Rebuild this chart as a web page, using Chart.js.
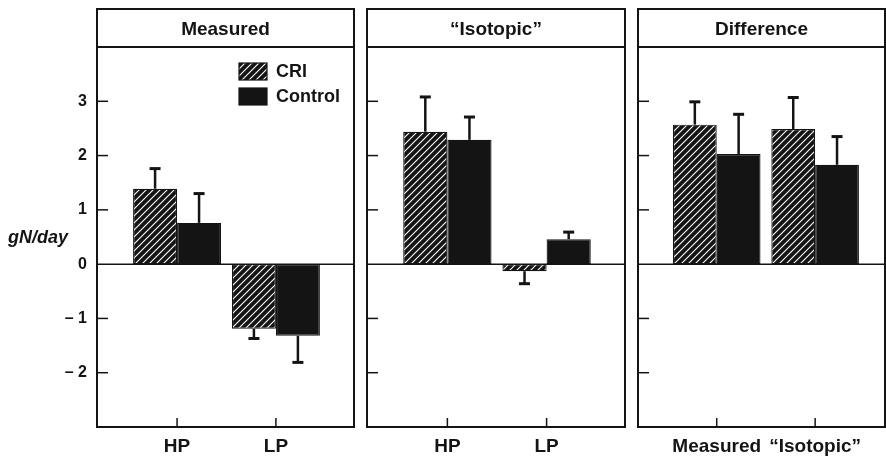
<!DOCTYPE html>
<html><head><meta charset="utf-8">
<script src="https://cdn.jsdelivr.net/npm/chart.js@4/dist/chart.umd.min.js"></script>
<style>
html,body{margin:0;padding:0;background:#fff;width:886px;height:458px;overflow:hidden}
canvas{position:absolute;top:0;display:block}
</style></head><body>
<canvas id="cA" width="360" height="458" style="left:0px"></canvas>
<canvas id="cB" width="270" height="458" style="left:360px"></canvas>
<canvas id="cC" width="256" height="458" style="left:630px"></canvas>
<script>
// ---- data ----
const seriesNames = ['CRI', 'Control'];
const panelTitles = ['Measured', '\u201CIsotopic\u201D', 'Difference'];
const dietLabels = ['HP', 'LP'];
const diffLabels = ['Measured', '\u201CIsotopic\u201D'];
const yTicks = [-2, -1, 0, 1, 2, 3];
const yTitle = 'gN/day';

const measuredCRI = [1.39, -1.19];
const measuredCRIErr = [0.37, 0.18];
const measuredControl = [0.76, -1.32];
const measuredControlErr = [0.54, 0.49];

const isotopicCRI = [2.44, -0.13];
const isotopicCRIErr = [0.64, 0.23];
const isotopicControl = [2.29, 0.46];
const isotopicControlErr = [0.42, 0.13];

const differenceCRI = [2.57, 2.49];
const differenceCRIErr = [0.42, 0.58];
const differenceControl = [2.03, 1.83];
const differenceControlErr = [0.73, 0.52];

// ---- styling helpers ----
const FONT = "'Liberation Sans', Arial, Helvetica, sans-serif";
const INK = '#141414';
Chart.defaults.font.family = FONT;
Chart.defaults.color = INK;

function makeHatch() {
  const s = 7;
  const c = document.createElement('canvas');
  c.width = s; c.height = s;
  const g = c.getContext('2d');
  g.fillStyle = INK; g.fillRect(0, 0, s, s);
  g.strokeStyle = '#ffffff'; g.lineWidth = 1.1;
  g.beginPath();
  g.moveTo(-1, 1); g.lineTo(1, -1);
  g.moveTo(0, s); g.lineTo(s, 0);
  g.moveTo(s - 1, s + 1); g.lineTo(s + 1, s - 1);
  g.stroke();
  return g.createPattern(c, 'repeat');
}

const HEADER_TOP = 9;

const framePlugin = {
  id: 'frame',
  afterDatasetsDraw(chart) {
    const ctx = chart.ctx, ca = chart.chartArea;
    const ys = chart.scales.y, xs = chart.scales.x;
    ctx.save();
    ctx.strokeStyle = INK;
    ctx.lineWidth = 1.5;
    const z = ys.getPixelForValue(0);
    ctx.beginPath(); ctx.moveTo(ca.left, z); ctx.lineTo(ca.right, z); ctx.stroke();
    yTicks.forEach(v => {
      if (v === 0) return;
      const p = ys.getPixelForValue(v);
      ctx.beginPath(); ctx.moveTo(ca.left, p); ctx.lineTo(ca.left + 11, p); ctx.stroke();
    });
    xs.ticks.forEach(t => {
      const p = xs.getPixelForValue(t.value);
      ctx.beginPath(); ctx.moveTo(p, ca.bottom); ctx.lineTo(p, ca.bottom - 9); ctx.stroke();
    });
    ctx.lineWidth = 2;
    ctx.strokeRect(ca.left, HEADER_TOP, ca.right - ca.left, ca.bottom - HEADER_TOP);
    ctx.beginPath(); ctx.moveTo(ca.left, ca.top); ctx.lineTo(ca.right, ca.top); ctx.stroke();
    ctx.restore();
  }
};

const errorBarPlugin = {
  id: 'errorBars',
  afterDatasetsDraw(chart) {
    const ctx = chart.ctx, ys = chart.scales.y;
    chart.data.datasets.forEach((ds, di) => {
      const meta = chart.getDatasetMeta(di);
      meta.data.forEach((el, i) => {
        const v = ds.data[i].y, e = ds.errors[i];
        const end = v >= 0 ? v + e : v - e;
        const p1 = ys.getPixelForValue(end);
        ctx.save();
        ctx.strokeStyle = INK;
        ctx.lineWidth = 2.5;
        ctx.beginPath(); ctx.moveTo(el.x, el.y); ctx.lineTo(el.x, p1); ctx.stroke();
        ctx.lineWidth = 3;
        ctx.beginPath(); ctx.moveTo(el.x - 5.5, p1); ctx.lineTo(el.x + 5.5, p1); ctx.stroke();
        ctx.restore();
      });
    });
  }
};

const legendPlugin = {
  id: 'boxLegend',
  afterDraw(chart, args, opts) {
    if (!opts.show) return;
    const ctx = chart.ctx, ca = chart.chartArea;
    ctx.save();
    chart.data.datasets.forEach((ds, i) => {
      const bx = ca.left + 142, by = ca.top + 16 + i * 25;
      ctx.fillStyle = ds.backgroundColor;
      ctx.fillRect(bx, by, 28, 17);
      ctx.strokeStyle = INK; ctx.lineWidth = 1.2;
      ctx.strokeRect(bx, by, 28, 17);
      ctx.fillStyle = INK;
      ctx.font = 'bold 18px ' + FONT;
      ctx.textBaseline = 'middle';
      ctx.textAlign = 'left';
      ctx.fillText(ds.label, bx + 37, by + 9.5);
    });
    ctx.restore();
  }
};

const yTitlePlugin = {
  id: 'yTitleFlat',
  afterDraw(chart, args, opts) {
    if (!opts.show) return;
    const ctx = chart.ctx;
    ctx.save();
    ctx.fillStyle = INK;
    ctx.font = 'italic bold 18px ' + FONT;
    ctx.textAlign = 'left';
    ctx.textBaseline = 'alphabetic';
    ctx.fillText(yTitle, 8, 243);
    ctx.restore();
  }
};

const hatch = makeHatch();

function buildPanel(id, title, labels, cri, criErr, ctl, ctlErr, layout) {
  const toPts = arr => arr.map((v, i) => ({ x: i + 1, y: v }));
  new Chart(document.getElementById(id), {
    type: 'bar',
    data: {
      datasets: [
        { label: seriesNames[0], data: toPts(cri), errors: criErr,
          backgroundColor: hatch, borderColor: INK, borderWidth: 1.2, borderSkipped: false },
        { label: seriesNames[1], data: toPts(ctl), errors: ctlErr,
          backgroundColor: INK, borderColor: INK, borderWidth: 1.2, borderSkipped: false }
      ]
    },
    options: {
      responsive: false,
      animation: false,
      events: [],
      categoryPercentage: 0.89,
      barPercentage: 1.0,
      layout: { padding: { left: layout.padL, right: layout.padR, top: 0, bottom: 0 } },
      plugins: {
        legend: { display: false },
        tooltip: { enabled: false },
        title: {
          display: true, text: title, fullSize: false, color: INK,
          font: { size: 19, weight: 'bold', family: FONT },
          padding: { top: 18.6, bottom: 5.6 }
        },
        boxLegend: { show: layout.legend },
        yTitleFlat: { show: layout.showY }
      },
      scales: {
        x: {
          type: 'linear', min: layout.xmin, max: layout.xmax,
          offset: false, grace: 0,
          grid: { display: false, drawTicks: false, offset: false },
          border: { display: false },
          afterBuildTicks: s => { s.ticks = labels.map((l, i) => ({ value: i + 1 })); },
          afterFit: s => { s.height = 31; },
          ticks: {
            padding: 8, color: INK, maxRotation: 0, autoSkip: false,
            font: { size: 19, weight: 'bold', family: FONT },
            callback: v => labels[Math.round(v) - 1] || ''
          }
        },
        y: {
          display: layout.showY,
          min: -3, max: 4,
          grid: { display: false, drawTicks: false },
          border: { display: false },
          afterBuildTicks: s => { s.ticks = yTicks.map(v => ({ value: v })); },
          afterFit: s => { if (layout.showY) s.width = 97; },
          ticks: {
            padding: 10, color: INK,
            font: { size: 16, weight: 'bold', family: FONT },
            callback: v => v < 0 ? '\u2013 ' + Math.abs(v) : String(v)
          }
        }
      }
    },
    plugins: [framePlugin, errorBarPlugin, legendPlugin, yTitlePlugin]
  });
}

buildPanel('cA', panelTitles[0], dietLabels, measuredCRI, measuredCRIErr, measuredControl, measuredControlErr,
  { padL: 0, padR: 6, xmin: 0.19, xmax: 2.79, showY: true, legend: true });
buildPanel('cB', panelTitles[1], dietLabels, isotopicCRI, isotopicCRIErr, isotopicControl, isotopicControlErr,
  { padL: 7, padR: 5, xmin: 0.19, xmax: 2.79, showY: false, legend: false });
buildPanel('cC', panelTitles[2], diffLabels, differenceCRI, differenceCRIErr, differenceControl, differenceControlErr,
  { padL: 8, padR: 1, xmin: 0.2, xmax: 2.71, showY: false, legend: false });
</script>
</body></html>
